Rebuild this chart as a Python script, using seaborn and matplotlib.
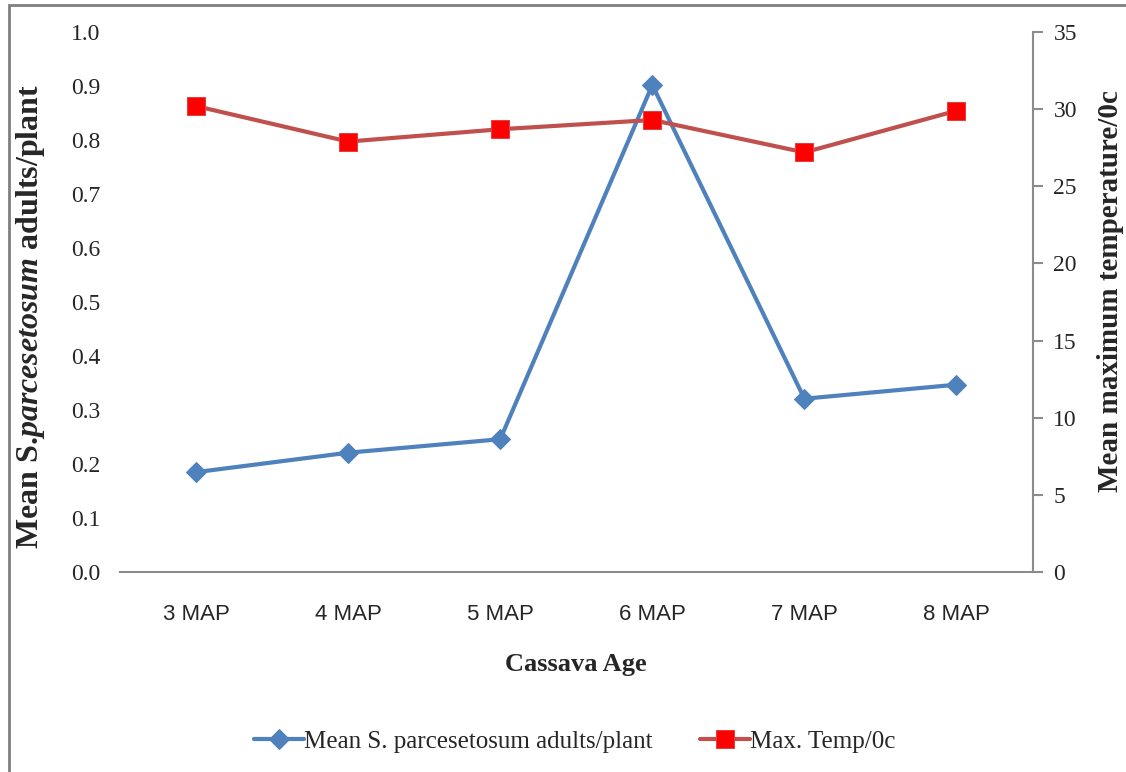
import matplotlib
matplotlib.use("Agg")
import matplotlib.pyplot as plt
import seaborn as sns
import pandas as pd
from matplotlib.patches import Rectangle

# Datos
ages = ['3 MAP', '4 MAP', '5 MAP', '6 MAP', '7 MAP', '8 MAP']
adults = [0.185, 0.221, 0.246, 0.902, 0.321, 0.347]
max_temp = [30.2, 27.9, 28.7, 29.3, 27.2, 29.9]

df = pd.DataFrame({'age': ages, 'adults': adults, 'temp': max_temp})

sns.set_theme(style='white')
plt.rcParams['font.family'] = ['Liberation Serif', 'DejaVu Serif']
plt.rcParams['mathtext.fontset'] = 'custom'
plt.rcParams['mathtext.rm'] = 'Liberation Serif:bold'
plt.rcParams['mathtext.it'] = 'Liberation Serif:italic:bold'

blue = '#4F81BD'
red_line = '#C0504D'
grey = '#8C8C8C'

fig = plt.figure(figsize=(11.26, 7.72), dpi=100)
ax = fig.add_axes([0.1066, 0.259, 0.8104, 0.6995])
ax2 = ax.twinx()

sns.lineplot(data=df, x='age', y='adults', ax=ax, color=blue, lw=3, marker='D',
             markersize=10, markeredgecolor=blue, label='Mean S. parcesetosum adults/plant',
             legend=False)
sns.lineplot(data=df, x='age', y='temp', ax=ax2, color=red_line, lw=3, marker='s',
             markersize=13, markerfacecolor='#FF0000', markeredgecolor='#E04040',
             label='Max. Temp/0c', legend=False)

ax.set_xlim(-0.5, 5.5)
ax.set_ylim(0, 1.0)
ax.set_yticks([i / 10 for i in range(11)])
ax.set_yticklabels([f'{i / 10:.1f}' for i in range(11)], fontsize=17)
ax2.set_ylim(0, 35)
ax2.set_yticks(range(0, 36, 5))
ax2.set_yticklabels([str(v) for v in range(0, 36, 5)], fontsize=17)

ax.set_xticks(range(len(ages)))
ax.set_xticklabels(ages, fontsize=16, family=['Liberation Sans Narrow', 'Liberation Sans', 'DejaVu Sans'])

for a in (ax, ax2):
    for s in a.spines.values():
        s.set_visible(False)
ax.spines['bottom'].set_visible(True)
ax.spines['bottom'].set_color(grey)
ax.spines['bottom'].set_linewidth(1.5)
ax2.spines['right'].set_visible(True)
ax2.spines['right'].set_color(grey)
ax2.spines['right'].set_linewidth(1.5)

ax.tick_params(axis='y', length=0, pad=14)
ax.tick_params(axis='x', length=0, pad=23)
ax2.tick_params(axis='y', length=7, width=1.5, color=grey, direction='out', pad=8)
ax.grid(False)
ax2.grid(False)

ax.set_xlabel('Cassava Age', fontsize=19, fontweight='bold', labelpad=20)
ax.set_ylabel(r'Mean S.$\mathit{parcesetosum}$ adults/plant', fontsize=23,
              fontweight='bold')
ax.yaxis.set_label_coords(-0.08, 0.474)
ax2.set_ylabel('Mean maximum temperature/0c', fontsize=21, fontweight='bold')
ax2.yaxis.set_label_coords(1.071, 0.52)

h1, l1 = ax.get_legend_handles_labels()
h2, l2 = ax2.get_legend_handles_labels()
fig.legend(h1 + h2, l1 + l2, loc='center', bbox_to_anchor=(0.51, 0.039), ncol=2,
           frameon=False, fontsize=18, handlelength=2.0, columnspacing=1.9,
           handletextpad=0.0)

# marco gris de la figura original
fig.patches.append(Rectangle((9 / 1126, -0.05), 1.2, 1 - 5 / 772 + 0.05,
                             transform=fig.transFigure, fill=False,
                             edgecolor='#7F7F7F', lw=2))

fig.savefig('out.png', dpi=100)
